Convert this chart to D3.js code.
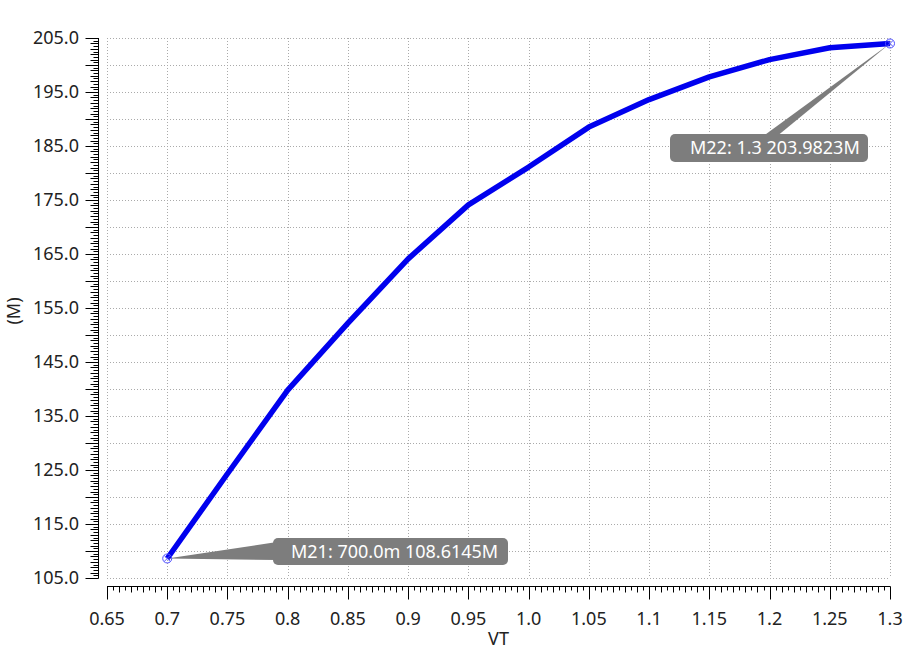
<!DOCTYPE html>
<html><head><meta charset="utf-8">
<script src="https://cdn.jsdelivr.net/npm/d3@7"></script>
<style>body{margin:0;background:#fff;}svg{display:block;font-family:"Noto Sans",sans-serif;}</style>
</head><body><svg id="c" width="907" height="651"></svg>
<script>
const xValues = [0.7,0.75,0.8,0.85,0.9,0.95,1.0,1.05,1.1,1.15,1.2,1.25,1.3];
const yValues = [108.6145,124.3,139.8,152.2,164.1,174.1,181.1,188.5,193.6,197.8,201.0,203.2,203.9823];
const xTickLabels = ["0.65","0.7","0.75","0.8","0.85","0.9","0.95","1.0","1.05","1.1","1.15","1.2","1.25","1.3"];
const yTickLabels = ["105.0","115.0","125.0","135.0","145.0","155.0","165.0","175.0","185.0","195.0","205.0"];
const markers = [
  {name:"M21", x:0.7, y:108.6145, label:"M21: 700.0m 108.6145M"},
  {name:"M22", x:1.3, y:203.9823, label:"M22: 1.3 203.9823M"}
];
const xLabel = "VT", yLabel = "(M)";

const svg = d3.select("#c");
const L=107, R=890, T=38, B=578;
const FS = 18;
const x = d3.scaleLinear().domain([0.65,1.3]).range([L,R]);
const y = d3.scaleLinear().domain([105,205]).range([B,T]);

// grid
const g = svg.append("g");
const xt = d3.range(0,14).map(i=>+(0.65+i*0.05).toFixed(2));
const yt = d3.range(0,21).map(i=>105+i*5);
g.selectAll(".vg").data(xt).enter().append("line")
 .attr("x1",d=>Math.round(x(d))+0.5).attr("x2",d=>Math.round(x(d))+0.5).attr("y1",T).attr("y2",B)
 .attr("stroke","#aaa").attr("stroke-dasharray","1,2");
g.selectAll(".hg").data(yt).enter().append("line")
 .attr("y1",d=>Math.round(y(d))+0.5).attr("y2",d=>Math.round(y(d))+0.5).attr("x1",L).attr("x2",R)
 .attr("stroke","#aaa").attr("stroke-dasharray","1,2");

// y axis
const yAxX = 98.5;
svg.append("line").attr("x1",yAxX).attr("x2",yAxX).attr("y1",T).attr("y2",B+0.5).attr("stroke","#000");
const yMinor = d3.range(0,201).map(i=>105+i*0.5);
svg.selectAll(".yt").data(yMinor).enter().append("line")
 .attr("x1",yAxX).attr("x2",d=>{const r=Math.round(d*2)%10; return yAxX-(r===0?13:(Math.round(d*2)%2===0?8:5));})
 .attr("y1",d=>Math.round(y(d))+0.5).attr("y2",d=>Math.round(y(d))+0.5).attr("stroke","#000");
const yLab = d3.range(0,11).map(i=>105+i*10);
svg.selectAll(".yl").data(yLab).enter().append("text")
 .attr("x",79).attr("y",d=>y(d)+6).attr("text-anchor","end").attr("font-size",FS).attr("fill","#222")
 .text((d,i)=>yTickLabels[i]);

// x axis
const xAxY = 586.5;
svg.append("line").attr("x1",L).attr("x2",R+0.5).attr("y1",xAxY).attr("y2",xAxY).attr("stroke","#000");
const xMinor = d3.range(0,131).map(i=>i);
svg.selectAll(".xt").data(xMinor).enter().append("line")
 .attr("y1",xAxY).attr("y2",i=> xAxY + (i%10===0?13:(i%2===0?6:4)))
 .attr("x1",i=>Math.round(x(0.65+i*0.005))+0.5).attr("x2",i=>Math.round(x(0.65+i*0.005))+0.5).attr("stroke","#000");
svg.selectAll(".xl").data(xt).enter().append("text")
 .attr("x",d=>x(d)).attr("y",625).attr("text-anchor","middle").attr("font-size",FS).attr("fill","#222")
 .text((d,i)=>xTickLabels[i]);

svg.append("text").attr("x",(L+R)/2).attr("y",645).attr("text-anchor","middle").attr("font-size",FS).attr("fill","#222").text(xLabel);
svg.append("text").attr("transform","translate(20,311) rotate(-90)").attr("text-anchor","middle").attr("font-size",FS).attr("fill","#222").text(yLabel);

// line
const data = xValues.map((v,i)=>[v,yValues[i]]);
svg.append("path").datum(data).attr("d",d3.line().x(d=>x(d[0])).y(d=>y(d[1])))
 .attr("fill","none").attr("stroke","#0000ee").attr("stroke-width",5.5).attr("stroke-linejoin","round");

// callouts
const boxes = [
  {bx:273, by:538, bw:235, bh:27, tx:291, wedge:"left"},
  {bx:670, by:134, bw:198, bh:28, tx:690, wedge:"top"}
];
markers.forEach((m,i)=>{
  const b = boxes[i], px=x(m.x), py=y(m.y);
  let pts;
  if (b.wedge==="left") pts=[[px,py],[b.bx+4,b.by+4],[b.bx+4,b.by+b.bh-5]];
  else pts=[[px,py],[b.bx+92,b.by+3],[b.bx+106,b.by+3]];
  svg.append("path").attr("d","M"+pts.map(p=>p.join(",")).join("L")+"Z").attr("fill","#7d7d7d");
  svg.append("rect").attr("x",b.bx).attr("y",b.by).attr("width",b.bw).attr("height",b.bh).attr("rx",5)
    .attr("fill","#7d7d7d");
  svg.append("text").attr("x",b.tx).attr("y",b.by+b.bh/2+6).attr("font-size",FS).attr("fill","#fff").text(m.label);
  const mk = svg.append("g").attr("transform",`translate(${px},${py})`);
  mk.append("circle").attr("r",4.5).attr("fill","none").attr("stroke","#4d4dff").attr("stroke-width",1);
  mk.append("path").attr("d","M-3,-3L3,3M-3,3L3,-3").attr("stroke","#4d4dff").attr("stroke-width",1);
});
</script></body></html>
